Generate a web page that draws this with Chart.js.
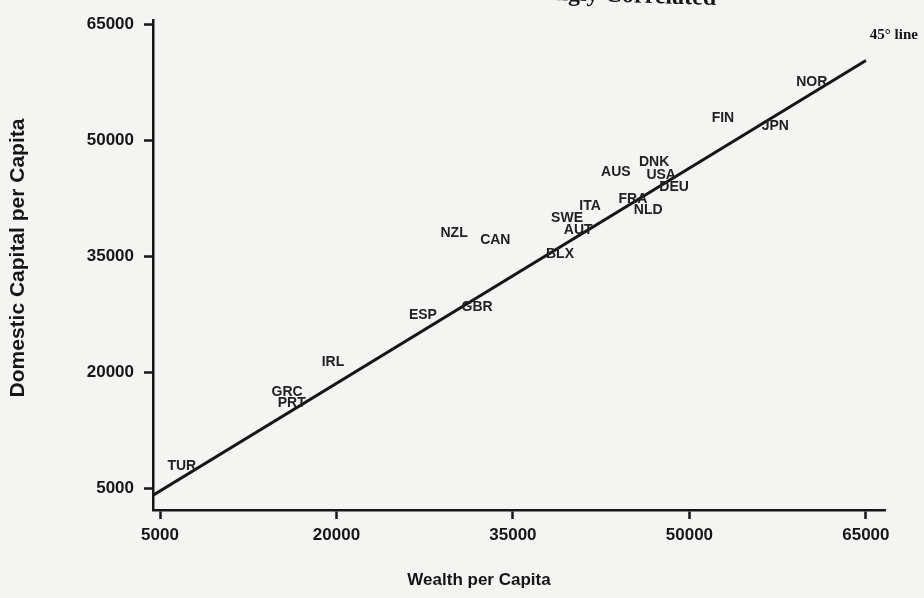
<!DOCTYPE html>
<html>
<head>
<meta charset="utf-8">
<script src="https://cdn.jsdelivr.net/npm/chart.js@4.4.1/dist/chart.umd.min.js"></script>
<style>
  html, body { margin: 0; padding: 0; background: #f4f4f2; }
  #wrap { width: 924px; height: 598px; }
</style>
</head>
<body>
<div id="wrap"><canvas id="chart" width="924" height="598"></canvas></div>
<script>
// values
const countries = ['NOR', 'FIN', 'JPN', 'DNK', 'AUS', 'USA', 'DEU', 'FRA', 'NLD', 'ITA', 'SWE',
  'AUT', 'NZL', 'CAN', 'BLX', 'GBR', 'ESP', 'IRL', 'GRC', 'PRT', 'TUR'];
const wealth = [60400, 52850, 57300, 47000, 43750, 47600, 48700, 45200, 46500, 41550, 39600,
  40550, 30000, 33500, 39000, 31950, 27350, 19700, 15800, 16200, 6850];
const domesticCapital = [57500, 52850, 51800, 47150, 45850, 45450, 43900, 42350, 40950, 41450, 39900,
  38350, 37950, 37050, 35250, 28400, 27350, 21300, 17400, 16000, 7850];
// the 45 degree reference line, as drawn on the scan
const lineX = [4450, 65000];
const lineY = [4100, 60300];
const xTicks = [5000, 20000, 35000, 50000, 65000];
const yTicks = [5000, 20000, 35000, 50000, 65000];

const ink = '#161616';
const sans = '"Liberation Sans", Arial, sans-serif';

const labelPlugin = {
  id: 'countryLabels',
  afterDatasetsDraw(chart) {
    const ctx = chart.ctx;
    const pts = chart.getDatasetMeta(1).data;
    ctx.save();
    ctx.font = 'bold 14px ' + sans;
    ctx.fillStyle = '#222';
    ctx.textAlign = 'center';
    ctx.textBaseline = 'middle';
    pts.forEach((p, i) => ctx.fillText(countries[i], p.x, p.y));

    // "45° line" note next to the end of the line
    const line = chart.getDatasetMeta(0).data;
    const end = line[line.length - 1];
    ctx.font = 'bold 15px "Liberation Serif", "Times New Roman", serif';
    ctx.fillStyle = ink;
    ctx.fillText('45° line', end.x + 28, end.y - 25);

    // axis titles
    ctx.font = 'bold 17px ' + sans;
    ctx.fillText('Wealth per Capita', 479, 580);
    ctx.translate(18, 258);
    ctx.rotate(-Math.PI / 2);
    ctx.font = 'bold 21px ' + sans;
    ctx.fillText('Domestic Capital per Capita', 0, 0);
    ctx.restore();

    // title cut off at the top edge of the (slightly tilted) scan
    ctx.save();
    ctx.translate(716, 5);
    ctx.rotate(0.031);
    ctx.font = 'bold 24px "Liberation Serif", "Times New Roman", serif';
    ctx.fillStyle = ink;
    ctx.textAlign = 'right';
    ctx.textBaseline = 'alphabetic';
    ctx.fillText('Strongly Correlated', 0, 0);
    ctx.restore();
  }
};

const tickFont = { family: sans, size: 17, weight: 'bold' };

new Chart(document.getElementById('chart'), {
  type: 'scatter',
  data: {
    datasets: [
      {
        type: 'line',
        data: lineX.map((x, i) => ({ x: x, y: lineY[i] })),
        borderColor: ink,
        borderWidth: 3,
        pointRadius: 0,
        fill: false
      },
      {
        data: wealth.map((x, i) => ({ x: x, y: domesticCapital[i] })),
        pointRadius: 0,
        pointHoverRadius: 0
      }
    ]
  },
  options: {
    responsive: false,
    animation: false,
    layout: { padding: { top: 20, right: 39, left: 0, bottom: 0 } },
    plugins: {
      legend: { display: false },
      tooltip: { enabled: false }
    },
    scales: {
      x: {
        type: 'linear',
        min: 4405,
        max: 66625,
        afterBuildTicks: s => { s.ticks = xTicks.map(v => ({ value: v })); },
        afterFit: s => { s.height = 88; },
        grid: { drawOnChartArea: false, drawTicks: true, tickLength: 9, tickWidth: 2.5, tickColor: ink },
        border: { display: true, color: ink, width: 2.5 },
        ticks: { color: ink, font: tickFont, padding: 6, maxRotation: 0, autoSkip: false, callback: v => String(v) }
      },
      y: {
        type: 'linear',
        min: 2155,
        max: 65517,
        afterBuildTicks: s => { s.ticks = yTicks.map(v => ({ value: v })); },
        afterFit: s => { s.width = 153; },
        grid: { drawOnChartArea: false, drawTicks: true, tickLength: 9, tickWidth: 2.5, tickColor: ink },
        border: { display: true, color: ink, width: 2.5 },
        ticks: { color: ink, font: tickFont, padding: 10, autoSkip: false, callback: v => String(v) }
      }
    }
  },
  plugins: [labelPlugin]
});
</script>
</body>
</html>
